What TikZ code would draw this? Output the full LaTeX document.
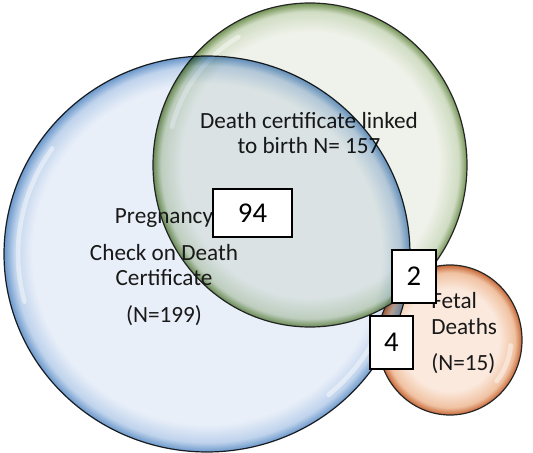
\documentclass[tikz,border=0pt]{standalone}
\usepackage{fontspec}
\setmainfont{Carlito}
\usetikzlibrary{positioning}

\definecolor{blueface}{HTML}{E9EFF9}
\definecolor{bluemid}{HTML}{BFD3EC}
\definecolor{bluerim}{HTML}{6A97CA}
\definecolor{greenface}{HTML}{EEF1E8}
\definecolor{greenmid}{HTML}{CCD9BE}
\definecolor{greenrim}{HTML}{688B47}
\definecolor{orangeface}{HTML}{FBE9DD}
\definecolor{orangemid}{HTML}{F0C2A2}
\definecolor{orangerim}{HTML}{C66635}

\pgfdeclareradialshading{bluebubble}{\pgfpointorigin}{color(0bp)=(blueface); color(21.5bp)=(blueface); color(23.8bp)=(bluemid); color(25bp)=(bluerim); color(50bp)=(bluerim)}
\pgfdeclareradialshading{greenbubble}{\pgfpointorigin}{color(0bp)=(greenface); color(20.5bp)=(greenface); color(23.7bp)=(greenmid); color(25bp)=(greenrim); color(50bp)=(greenrim)}
\pgfdeclareradialshading{orangebubble}{\pgfpointorigin}{color(0bp)=(orangeface); color(17bp)=(orangeface); color(22.5bp)=(orangemid); color(25bp)=(orangerim); color(50bp)=(orangerim)}

\begin{document}
\begin{tikzpicture}[x=0.75pt, y=-0.75pt,
    bubble/.style={draw=black!85, line width=0.9pt},
    gloss/.style={draw=white, line width=3.5pt, opacity=0.45, line cap=round},
    lbl/.style={font=\fontsize{17.4}{18.75}\selectfont, inner sep=0pt, text=black!90},
    countbox/.style={draw=black, line width=0.8pt, fill=white,
      font=\fontsize{21.5}{24}\selectfont, inner sep=0pt}]
  \useasboundingbox (0,0) rectangle (533,453);

  % fetal deaths
  \shadedraw[bubble, shading=orangebubble] (450,340) ellipse [x radius=72, y radius=75];
  \draw[gloss] (450,340) ++(5:61 and 64) arc [start angle=5, end angle=40, x radius=61, y radius=64];
  % linked to birth
  \shadedraw[bubble, shading=greenbubble, fill opacity=0.92] (310,165) ellipse [x radius=157, y radius=162];
  \draw[gloss] (310,165) ++(195:143 and 148) arc [start angle=195, end angle=240, x radius=143, y radius=148];
  \node[lbl, align=center] (linked) at (309,133.5) {Death certificate linked\\to birth N= 157};
  % pregnancy check
  \begin{scope}[blend mode=multiply]
    \shadedraw[bubble, shading=bluebubble] (207,254) ellipse [x radius=203, y radius=198];
  \end{scope}
  \draw[gloss] (207,254) ++(165:189 and 184) arc [start angle=165, end angle=215, x radius=189, y radius=184];
  \draw[gloss] (207,254) ++(25:189 and 184) arc [start angle=25, end angle=50, x radius=189, y radius=184];

  \node[lbl, align=center] (preg) at (164,267.5)
    {Pregnancy\\[9pt]Check on Death\\Certificate\\[9pt](N=199)};
  \node[lbl, align=left, anchor=west] (fetal) at (431,333.5)
    {Fetal\\[0.5pt]Deaths\\[8.5pt](N=15)};

  \node[countbox, minimum width=59.25pt, minimum height=36pt] (both) at (252.5,213) {94};
  \node[countbox, minimum width=33pt, minimum height=39.75pt] (greenfetal) at (414,276.5) {2};
  \node[countbox, minimum width=32.25pt, minimum height=39.75pt] (bluefetal) at (391.5,342.5) {4};
\end{tikzpicture}
\end{document}
